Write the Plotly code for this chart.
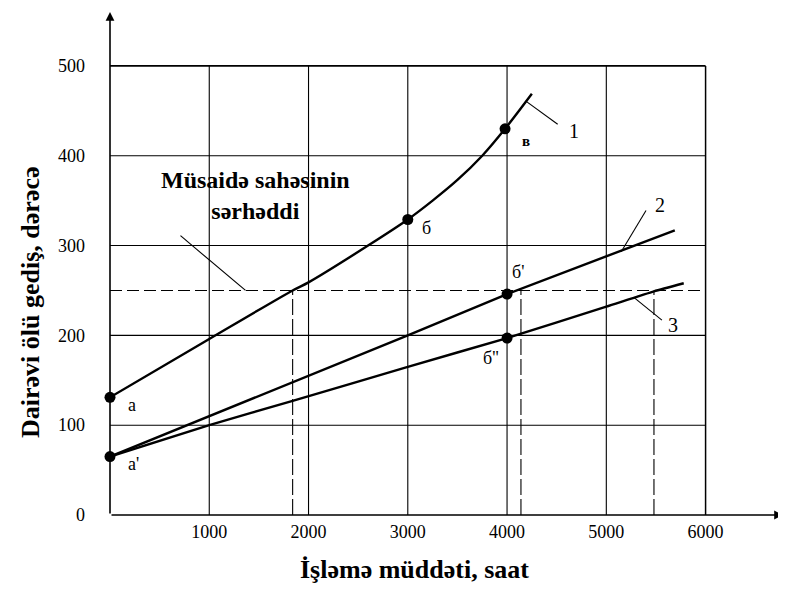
import plotly.graph_objects as go

# ---- data ----
x_ticks = [1000, 2000, 3000, 4000, 5000, 6000]
y_ticks = [0, 100, 200, 300, 400, 500]

curve1_x = [0, 1000, 1840, 2000, 2600, 3000, 3250, 3500, 3750, 3980, 4250]
curve1_y = [131, 196, 250, 259, 300, 329, 350, 373, 400, 430, 469]
curve2_x = [0, 1000, 1840, 3000, 4000, 5000, 5690]
curve2_y = [65, 110, 147, 200, 246, 288, 317]
curve3_x = [0, 1000, 1840, 3000, 4000, 5000, 5480, 5780]
curve3_y = [65, 100, 127, 165, 197, 232, 249, 258]

point_x = [0, 0, 3000, 3980, 4000, 4000]
point_y = [131, 65, 329, 430, 246, 197]

limit_value = 250
limit_crossings = [1840, 4140, 5480]

x_max, y_max = 6780, 560
grid_x_max, grid_y_max = 6000, 500

SERIF = "Liberation Serif, Times New Roman, serif"

fig = go.Figure()

line_style = dict(color="black", width=2.4)
fig.add_trace(go.Scatter(x=curve1_x, y=curve1_y, mode="lines",
                         line=dict(shape="spline", smoothing=0.8, **line_style),
                         hoverinfo="skip"))
fig.add_trace(go.Scatter(x=curve2_x, y=curve2_y, mode="lines", line=line_style, hoverinfo="skip"))
fig.add_trace(go.Scatter(x=curve3_x, y=curve3_y, mode="lines",
                         line=dict(shape="spline", smoothing=0.5, **line_style),
                         hoverinfo="skip"))
fig.add_trace(go.Scatter(x=point_x, y=point_y, mode="markers",
                         marker=dict(color="black", size=11), cliponaxis=False,
                         hoverinfo="skip"))

shapes = []
# grid
for xv in x_ticks:
    shapes.append(dict(type="line", x0=xv, x1=xv, y0=0, y1=grid_y_max,
                       line=dict(color="black", width=1.5 if xv == grid_x_max else 1.1)))
for yv in y_ticks[1:]:
    shapes.append(dict(type="line", x0=0, x1=grid_x_max, y0=yv, y1=yv,
                       line=dict(color="black", width=1.8 if yv == grid_y_max else 1.1)))
# limit lines
shapes.append(dict(type="line", x0=0, x1=grid_x_max, y0=limit_value, y1=limit_value,
                   line=dict(color="black", width=1.1, dash="12px,5px")))
for xv in limit_crossings:
    shapes.append(dict(type="line", x0=xv, x1=xv, y0=0, y1=limit_value,
                       line=dict(color="black", width=1.1, dash="16px,4px")))
# leader lines
leaders = [
    ((4200, 460), (4510, 435)),
    ((5150, 293), (5400, 339)),
    ((5280, 242), (5560, 217)),
    ((1365, 250), (710, 311)),
]
for (x0, y0), (x1, y1) in leaders:
    shapes.append(dict(type="line", x0=x0, y0=y0, x1=x1, y1=y1,
                       line=dict(color="black", width=1.1)))
for s in shapes:
    s["layer"] = "below"
    s["xref"] = "x"
    s["yref"] = "y"

annotations = []
# axes with arrows
annotations.append(dict(x=x_max, y=0, ax=0, ay=0, xref="x", yref="y", axref="x", ayref="y",
                        showarrow=True, arrowhead=2, arrowsize=1.1, arrowwidth=1.6,
                        arrowcolor="black", text=""))
annotations.append(dict(x=0, y=y_max, ax=0, ay=0, xref="x", yref="y", axref="x", ayref="y",
                        showarrow=True, arrowhead=2, arrowsize=1.1, arrowwidth=1.6,
                        arrowcolor="black", text=""))

def label(text, x, y, size=18, bold=False):
    t = f"<b>{text}</b>" if bold else text
    annotations.append(dict(x=x, y=y, xref="x", yref="y", text=t, showarrow=False,
                            font=dict(family=SERIF, size=size, color="black")))

label("a", 225, 122)
label("a'", 235, 57)
label("б", 3190, 319)
label("в", 4190, 416, size=15, bold=True)
label("б'", 4110, 270)
label("б''", 3840, 175)
label("1", 4670, 427, size=20)
label("2", 5545, 345, size=20)
label("3", 5670, 212, size=20)
label("Müsaidə sahəsinin<br>sərhəddi", 1467, 356, size=24, bold=True)

# axis titles
annotations.append(dict(x=0.453, y=-0.109, xref="paper", yref="paper", yanchor="middle",
                        xanchor="center",
                        text="<b>İşləmə müddəti, saat</b>", showarrow=False,
                        font=dict(family=SERIF, size=26, color="black")))
annotations.append(dict(x=-0.119, y=237, xref="paper", yref="y", xanchor="center",
                        yanchor="middle",
                        text="<b>Dairəvi ölü gediş, dərəcə</b>",
                        showarrow=False, textangle=-90,
                        font=dict(family=SERIF, size=26, color="black")))

fig.update_layout(
    width=778, height=586,
    margin=dict(l=102, r=3, t=4, b=79, autoexpand=False),
    plot_bgcolor="white", paper_bgcolor="white",
    showlegend=False,
    shapes=shapes, annotations=annotations,
    xaxis=dict(range=[0, x_max], showgrid=False, zeroline=False, showline=False,
               tickmode="array", tickvals=x_ticks, ticktext=[str(v) for v in x_ticks],
               ticks="", ticklabelstandoff=4, automargin=False,
               tickfont=dict(family=SERIF, size=18, color="black"), fixedrange=True),
    yaxis=dict(range=[0, y_max], showgrid=False, zeroline=False, showline=False,
               tickmode="array", tickvals=y_ticks, ticktext=[str(v) for v in y_ticks],
               ticks="", ticklabelstandoff=24, automargin=False,
               tickfont=dict(family=SERIF, size=18, color="black"), fixedrange=True),
)

fig.write_html("out.html")
